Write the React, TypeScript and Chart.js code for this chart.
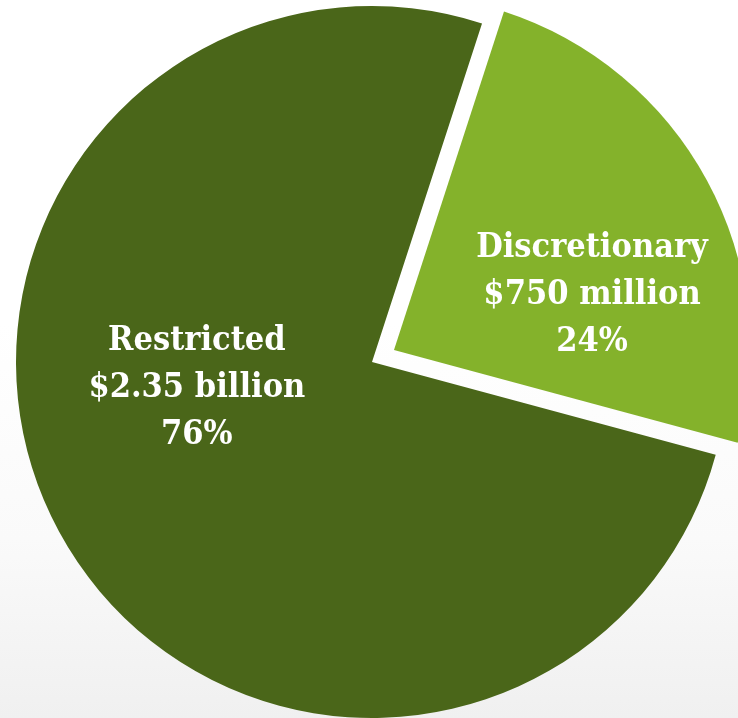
import React, { useEffect, useRef } from "react";
import { Chart, registerables } from "chart.js";

Chart.register(...registerables);

const categories = ["Discretionary", "Restricted"];
const amounts = [750, 2350]; // $ millions
const amountLabels = ["$750 million", "$2.35 billion"];
const percentLabels = ["24%", "76%"];
const sliceColors = ["#84b22b", "#4a6619"];
const sliceExplode = [25, 0];
// label anchors (middle line baseline) relative to pie centre, in units of radius
const labelAnchorX = [0.618, -0.492];
const labelAnchorY = [-0.164, 0.097];

const RADIUS = 356;
const CANVAS = 800;

const explodePlugin = {
  id: "explodeSlices",
  afterDatasetUpdate(chart: any) {
    const meta = chart.getDatasetMeta(0);
    meta.data.forEach((arc: any, i: number) => {
      const d = sliceExplode[i] || 0;
      if (!d || arc.__exploded) return;
      const orig = arc.draw.bind(arc);
      arc.draw = (ctx: CanvasRenderingContext2D) => {
        const mid = (arc.startAngle + arc.endAngle) / 2;
        ctx.save();
        ctx.translate(Math.cos(mid) * d, Math.sin(mid) * d);
        orig(ctx);
        ctx.restore();
      };
      arc.__exploded = true;
    });
  },
};

const labelPlugin = {
  id: "sliceLabels",
  afterDatasetsDraw(chart: any) {
    const meta = chart.getDatasetMeta(0);
    const ctx = chart.ctx as CanvasRenderingContext2D;
    ctx.save();
    ctx.fillStyle = "#ffffff";
    ctx.textAlign = "center";
    ctx.textBaseline = "alphabetic";
    ctx.font = "bold 34px 'DejaVu Serif Condensed', 'DejaVu Serif', serif";
    meta.data.forEach((arc: any, i: number) => {
      const r = arc.outerRadius;
      const cx = arc.x + labelAnchorX[i] * r;
      const cy = arc.y + labelAnchorY[i] * r;
      const lines = [categories[i], amountLabels[i], percentLabels[i]];
      lines.forEach((t, j) => {
        ctx.fillText(t, cx, cy + (j - 1) * 47);
      });
    });
    ctx.restore();
  },
};

export default function App() {
  const ref = useRef<HTMLCanvasElement | null>(null);
  useEffect(() => {
    if (!ref.current) return;
    const chart = new Chart(ref.current, {
      type: "pie",
      data: {
        labels: categories,
        datasets: [
          {
            data: amounts,
            backgroundColor: sliceColors,
            borderWidth: 0,
            offset: 0,
            hoverOffset: 0,
          },
        ],
      },
      options: {
        animation: false,
        responsive: false,
        events: [],
        rotation: 18,
        radius: RADIUS,
        layout: { padding: 0 },
        plugins: {
          legend: { display: false },
          tooltip: { enabled: false },
        },
      },
      plugins: [explodePlugin, labelPlugin],
    });
    return () => chart.destroy();
  }, []);

  return (
    <div
      style={{
        position: "fixed",
        left: 0,
        top: 0,
        width: 738,
        height: 718,
        overflow: "hidden",
        background:
          "linear-gradient(to bottom, #ffffff 0%, #ffffff 45%, #fafafa 75%, #f0f0f0 100%)",
      }}
    >
      <canvas
        ref={ref}
        width={CANVAS}
        height={CANVAS}
        style={{
          position: "absolute",
          left: 372 - CANVAS / 2,
          top: 362 - CANVAS / 2,
          width: CANVAS,
          height: CANVAS,
        }}
      />
    </div>
  );
}
